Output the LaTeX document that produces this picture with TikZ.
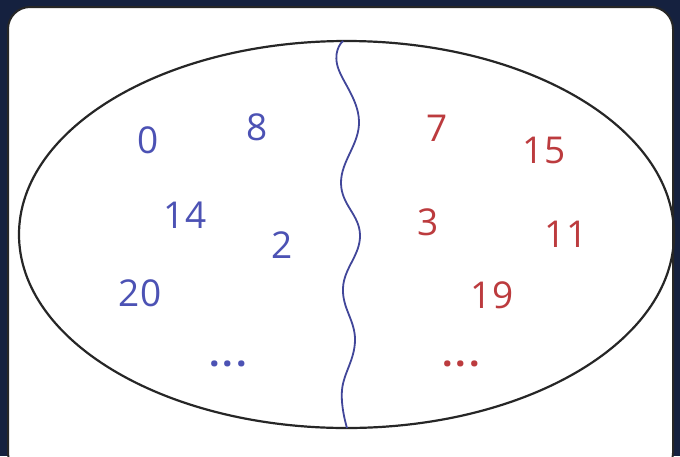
\documentclass[tikz,border=0pt]{standalone}
\usepackage{fontspec}
\setmainfont{Open Sans}
\usepackage{tikz}
\definecolor{navy}{HTML}{15213F}
\definecolor{evenblue}{HTML}{4C52B4}
\definecolor{oddred}{HTML}{BC3B3E}

\begin{document}
\begin{tikzpicture} [x=1pt,y=-1pt]
	 \tikzstyle{num}=[inner sep=0pt,font=\fontsize{37}{37}\selectfont]
	 \tikzstyle{even}=[num,text=evenblue]
	 \tikzstyle{odd}=[num,text=oddred]
	 \useasboundingbox (0,0) rectangle (680,456);
	 \fill[navy] (0,0) rectangle (680,456);
	 \begin{scope}
	 \clip (0,0) rectangle (680,456);
	 \draw[black!85,line width=2pt,fill=white,rounded corners=22pt] (8,7) rectangle (673,475);
	 \end{scope}

	 \draw[line width=2.2pt,black!85] (346.5,234.5) ellipse [x radius=327.5pt,y radius=193.5pt];
	 \draw[line width=1.8pt,evenblue!85!black] plot[smooth,tension=0.7] coordinates
	   {(343,41) (337,64) (359,121) (341,183) (360,235) (343,288) (355,340) (342,390) (347,428)};

	 \node[even] (n0) at (148,140) {0};
	 \node[even] (n8) at (257,127) {8};
	 \node[even] (n14) at (185,215) {14};
	 \node[even] (n2) at (282,245) {2};
	 \node[even] (n20) at (140,293) {20};
	 \node[even] (moreeven) at (228,364) {\textbf{.\hspace{3pt}.\hspace{3pt}.}};

	 \node[odd] (n7) at (437,128) {7};
	 \node[odd] (n15) at (544,150) {15};
	 \node[odd] (n3) at (428,222) {3};
	 \node[odd] (n11) at (566,234) {11};
	 \node[odd] (n19) at (492,295) {19};
	 \node[odd] (moreodd) at (461,364) {\textbf{.\hspace{3pt}.\hspace{3pt}.}};

 \end{tikzpicture}
\end{document}
